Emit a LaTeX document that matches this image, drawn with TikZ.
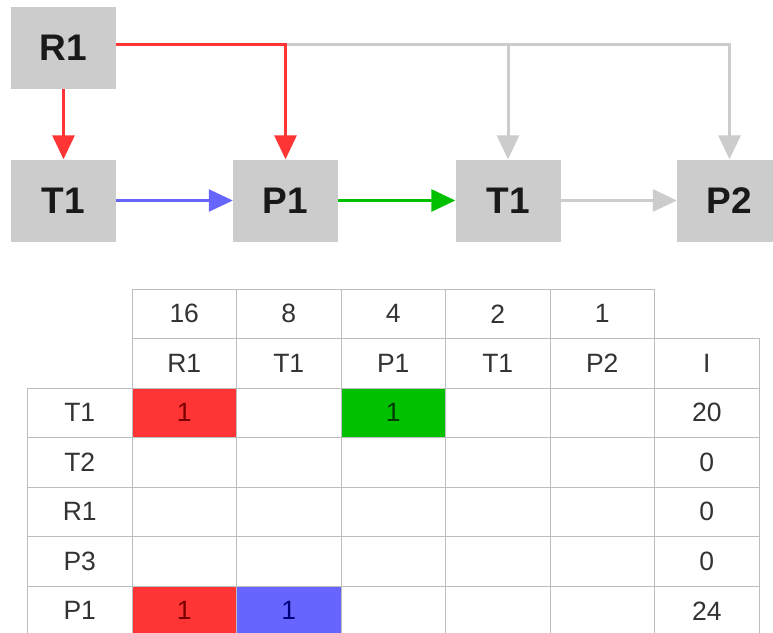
\documentclass[tikz,border=0pt]{standalone}
\usepackage{fontspec}
\setmainfont{Liberation Sans}
\usetikzlibrary{arrows.meta}
\definecolor{boxgray}{HTML}{CCCCCC}
\definecolor{linegray}{HTML}{CCCCCC}
\definecolor{myred}{HTML}{FF3535}
\definecolor{myblue}{HTML}{6666FF}
\definecolor{mygreen}{HTML}{00C000}
\definecolor{gridgray}{HTML}{BDBDBD}
\definecolor{txt}{HTML}{333333}
\definecolor{redtxt}{HTML}{7A0000}
\definecolor{bluetxt}{HTML}{00007A}
\definecolor{greentxt}{HTML}{003A00}
\begin{document}
\begin{tikzpicture}[x=1pt,y=-1pt,
  box/.style={fill=boxgray, minimum width=105pt, minimum height=82pt, inner sep=0pt,
    font=\fontsize{37}{40}\selectfont\bfseries, text=black!90},
  conn/.style={line width=3pt, -{Triangle[width=22pt,length=24pt]}},
  cell/.style={draw=gridgray, line width=0.8pt, minimum width=104.5pt, minimum height=49.5pt,
    inner sep=0pt, font=\fontsize{26.5}{28}\selectfont, text=txt},
]
\clip (0,0) rectangle (773,632);
\fill[white] (0,0) rectangle (773,632);

% graph nodes
\node[box] (R1) at (63.5,48) {R1};
\node[box] (T1a) at (63.5,200.5) {T1};
\node[box] (P1) at (285.5,200.5) {P1};
\node[box] (T1b) at (508,200.5) {T1};
\node[box] (P2) at (729.5,200.5) {P2};

% connectors
\draw[conn, linegray] ([yshift=4pt]R1.east) -| (P2.north);
\draw[conn, linegray] ([yshift=4pt]R1.east) -| (T1b.north);
\draw[conn, myred] ([yshift=4pt]R1.east) -| (P1.north);
\draw[conn, myred] (R1.south) -- (T1a.north);
\draw[conn, myblue, line width=2.5pt] (T1a.east) -- (P1.west);
\draw[conn, mygreen] (P1.east) -- (T1b.west);
\draw[conn, linegray] (T1b.east) -- (P2.west);

% table: weights row
\foreach \t [count=\i] in {16,8,4,2,1}
  \node[cell] (w\i) at ({132+104.5*(\i-0.5)},313.75) {\t};
% header row
\foreach \t [count=\i] in {R1,T1,P1,T1,P2,I}
  \node[cell] (h\i) at ({132+104.5*(\i-0.5)},363.25) {\t};
% body rows
\foreach \t/\v [count=\j] in {T1/20,T2/0,R1/0,P3/0,P1/24}{
  \node[cell] (r\j) at (79.75,{363.25+49.5*\j}) {\t};
  \foreach \k in {1,...,5}
    \node[cell] (c\j\k) at ({132+104.5*(\k-0.5)},{363.25+49.5*\j}) {};
  \node[cell] (i\j) at (706.75,{363.25+49.5*\j}) {\v};
}
% coloured cells
\node[cell, fill=myred, text=redtxt] (x11) at (c11) {1};
\node[cell, fill=mygreen, text=greentxt] (x13) at (c13) {1};
\node[cell, fill=myred, text=redtxt] (x51) at (c51) {1};
\node[cell, fill=myblue, text=bluetxt] (x52) at (c52) {1};
\end{tikzpicture}
\end{document}
